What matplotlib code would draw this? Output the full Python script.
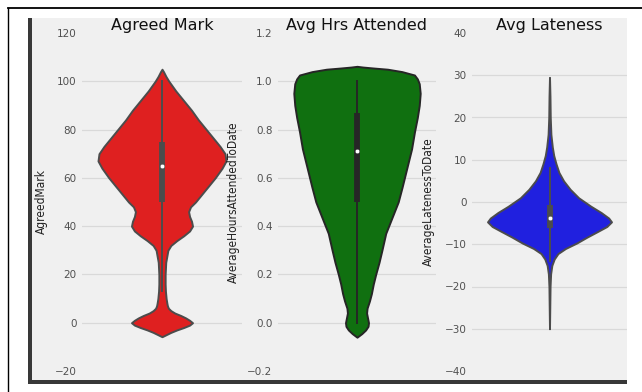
import numpy as np
import matplotlib
matplotlib.use("Agg")
import matplotlib.pyplot as plt
from matplotlib.patches import Rectangle
from matplotlib.lines import Line2D

# violin outlines: value along the axis and relative density width (bottom to top)
mark_y = [-5.8, -5, -4, -3, -2, -1, 0, 1, 2, 3, 4, 5, 6, 7, 8, 10, 13, 16, 20, 25,
          30, 32, 34, 36, 38, 40, 42, 44, 46, 48, 50, 53, 56, 60, 64, 67, 70, 73,
          76, 80, 84, 88, 92, 96, 100, 102, 104, 105]
mark_w = [0, 4, 9, 15, 22, 28, 31, 28, 24, 19, 13, 9, 6.5, 5.5, 5, 4.2, 3.5, 3.2, 3.2, 3.8,
          6, 9, 15, 22, 28, 31, 30, 28, 27, 29, 34, 40, 46, 54, 61, 65, 64, 59,
          53, 45, 37, 30, 22, 14, 7, 4, 1.5, 0]

hrs_y = [-0.06, -0.045, -0.03, -0.015, 0.0, 0.02, 0.04, 0.06, 0.09, 0.12, 0.16, 0.2,
         0.25, 0.3, 0.37, 0.44, 0.5, 0.56, 0.64, 0.72, 0.79, 0.85, 0.9, 0.95, 0.99,
         1.01, 1.026, 1.04, 1.05, 1.055, 1.059, 1.062]
hrs_w = [0, 5, 9, 11.5, 12, 11, 10, 10.5, 13, 15, 17, 19.5,
         23, 26, 30, 37, 43, 47, 52, 57, 60, 63, 65, 66, 65,
         63, 60, 47, 32, 17, 6, 0]

late_y = [-30, -25, -20, -17, -15, -13.5, -12.2, -11, -9.7, -8.3, -7, -5.8, -4.7,
          -3.8, -2.5, -1, 1, 3, 5, 7, 9, 11, 13, 16, 20, 25, 29.5]
late_w = [0, 0.3, 0.6, 1.2, 2.5, 5, 9, 17, 29, 40, 51, 61, 66,
          63, 55, 44, 31, 22, 15, 10, 7, 4.5, 3, 1.5, 0.8, 0.5, 0]

# lower whisker, q1, median, q3, upper whisker
mark_box = [13, 50, 65, 75, 100]
hrs_box = [0.0, 0.5, 0.712, 0.869, 1.0]
late_box = [-14, -6.2, -3.9, -0.7, 8]

titles = ["Agreed Mark", "Avg Hrs Attended", "Avg Lateness"]
ylabels = ["AgreedMark", "AverageHoursAttendedToDate", "AverageLatenessToDate"]
yticks = [[-20, 0, 20, 40, 60, 80, 100, 120],
          [-0.2, 0.0, 0.2, 0.4, 0.6, 0.8, 1.0, 1.2],
          [-40, -30, -20, -10, 0, 10, 20, 30, 40]]
colors = ["#df2020", "#107010", "#2020df"]
edges = ["#4c4c4c", "#262626", "#4c4c4c"]

W, H = 642, 392
fig = plt.figure(figsize=(W / 100, H / 100), dpi=100, facecolor="white")

def fx(px):
    return px / W

def fy(py):
    return 1 - py / H

# grey panel with dark left / bottom edges, and the thin black frame (behind the axes)
def panel(x0, y0, x1, y1, color):
    fig.add_artist(Rectangle((fx(x0), fy(y1)), fx(x1) - fx(x0), fy(y0) - fy(y1),
                             transform=fig.transFigure, facecolor=color,
                             edgecolor="none", zorder=-10))

panel(28, 18, 627, 383, "#f0f0f0")
panel(28, 18, 32, 383, "#383838")
panel(28, 380, 627, 383.5, "#383838")
fig.add_artist(Line2D([fx(8), 1], [fy(7.5), fy(7.5)], transform=fig.transFigure,
                      color="black", lw=1.3, zorder=-10))
fig.add_artist(Line2D([fx(8), fx(8)], [0, fy(7.5)], transform=fig.transFigure,
                      color="black", lw=1.0, zorder=-10))

lefts = [82, 278, 472]
widths = [160, 158, 155]
label_x = [48, 240, 435]
data = [(mark_y, mark_w, mark_box), (hrs_y, hrs_w, hrs_box), (late_y, late_w, late_box)]
lw = 1.4

for i in range(3):
    ax = fig.add_axes([fx(lefts[i]), fy(371), widths[i] / W, 338 / H])
    ax.set_facecolor("none")
    ys, ws, box = data[i]
    stats = [dict(coords=ys, vals=ws, mean=box[2], median=box[2], min=ys[0], max=ys[-1])]
    parts = ax.violin(stats, positions=[0], widths=0.8, showmeans=False,
                      showextrema=False, showmedians=False)
    for body in parts["bodies"]:
        body.set_facecolor(colors[i])
        body.set_edgecolor(edges[i])
        body.set_linewidth(lw)
        body.set_alpha(1)
        body.set_zorder(2)
    # inner box: whiskers, interquartile bar, median dot
    ax.plot([0, 0], [box[0], box[4]], color=edges[i], lw=lw, zorder=3)
    ax.plot([0, 0], [box[1], box[3]], color=edges[i], lw=lw * 3,
            solid_capstyle="butt", zorder=3)
    ax.scatter([0], [box[2]], s=np.square(lw * 2.3), color="white",
               edgecolor=edges[i], linewidth=0.3, zorder=4)

    tk = yticks[i]
    for t in tk[1:-1]:
        ax.axhline(t, color="#d9d9d9", lw=0.9, zorder=0)
    ax.set_xlim(-0.5, 0.5)
    ax.set_ylim(tk[0], tk[-1])
    ax.set_yticks(tk)
    ax.set_xticks([])
    ax.tick_params(axis="y", length=0, pad=4, labelsize=7.5, labelcolor="#505050")
    for s in ax.spines.values():
        s.set_visible(False)
    ax.set_title(titles[i], fontsize=11.5, color="#111111", pad=1)
    ax.set_ylabel(ylabels[i], family="DejaVu Sans", fontstretch="condensed",
                  fontsize=8.6, color="#222222")
    ax.yaxis.set_label_coords((label_x[i] - lefts[i]) / widths[i], 0.5)

fig.savefig("out.png", dpi=100, facecolor="white")
